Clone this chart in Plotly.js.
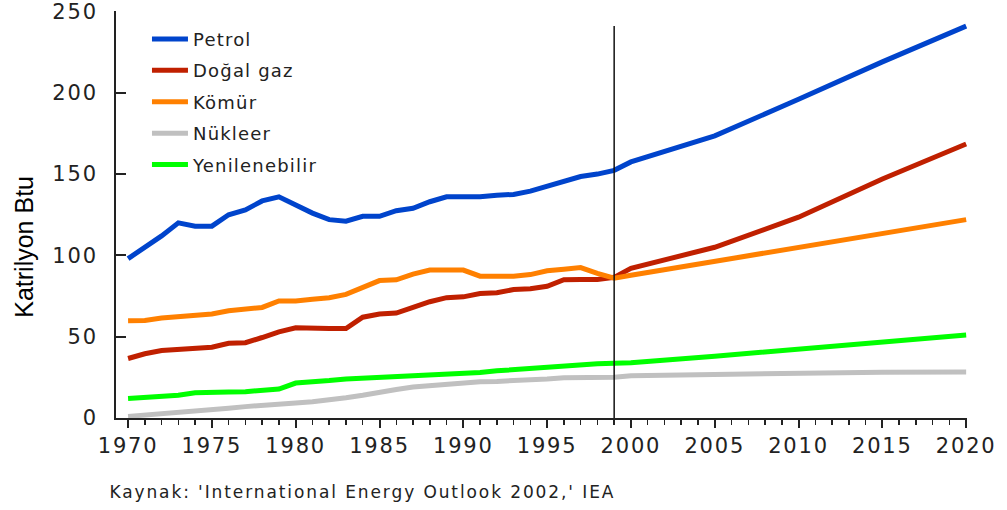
<!DOCTYPE html>
<html>
<head>
<meta charset="utf-8">
<script src="https://cdn.plot.ly/plotly-3.0.1.min.js"></script>
<style>
html, body { margin:0; padding:0; background:#fff; }
#chart { width:1007px; height:510px; }
.xtick text, .ytick text { letter-spacing: 1.8px; }
.legendtext { letter-spacing: 1.2px; }
.annotation-text.source { letter-spacing: 1.9px; }
</style>
</head>
<body>
<div id="chart"></div>
<script>
// Years
const histYears = [1970,1971,1972,1973,1974,1975,1976,1977,1978,1979,
                   1980,1981,1982,1983,1984,1985,1986,1987,1988,1989,
                   1990,1991,1992,1993,1994,1995,1996,1997,1998,1999];
const forecastYears = [2000,2005,2010,2015,2020];

// Series (quadrillion Btu) — historical 1970-1999
const petrolHist = [98,105,112,120,118,118,125,128,133.5,136,
                    131,126,122,121,124,124,127.5,129,133,136,
                    136,136,137,137.5,139.5,142.5,146,148.5,150,152.3];
const gasHist    = [36.6,39.5,41.5,42,43,43.5,46,46.3,49.5,53,
                    55.5,55,55,55,62,64,64.5,68,71.5,74,
                    74.5,76.5,77,79,79.5,81,85,85.2,85.2,86.5];
const coalHist   = [59.8,60,61.5,62.5,62.8,64,66,67,68,72,
                    72,73,74,76,80,84.5,85,88.5,91,91,
                    91,87.2,87,87.2,88.2,90.5,91.5,92.5,89,86];
const nuclearHist= [1,1.8,2.5,3,4,5,6,7,7.5,8,
                    9.2,10,11,12.5,14,16,17.5,19,20,21,
                    21.5,22.3,22.5,22.8,23.3,24,24.8,25,25,25];
const renewHist  = [12,12.5,13.5,14,15.5,16,16,16.2,17,17.8,
                    21.5,22,23,24,24.5,25,25.2,25.5,26,26.5,
                    27.3,28,29,29.8,30.5,31.3,32.2,33,33.3,33.6];

// Forecast 2000-2020
const petrolFc  = [157.5,173.5,196,219,241];
const gasFc     = [92,105,123.5,147,168.5];
const coalFc    = [87.8,96.5,105,113.5,122];
const nuclearFc = [26,26.7,27.8,28.2,28.3];
const renewFc   = [34,38,42.3,46.7,51];

const seriesNames = ['Petrol','Doğal gaz','Kömür','Nükleer','Yenilenebilir'];
const seriesColors = ['#0044cc','#c02000','#ff8000','#c0c0c0','#00ff00'];

const yTickVals = [0,50,100,150,200,250];
const dividerYear = 1999;
const dividerTop = 241;
const sourceText = "Kaynak: 'International Energy Outlook 2002,' IEA";
const yTitle = 'Katrilyon Btu';

const allYears = histYears.concat(forecastYears);
const data = [petrolHist.concat(petrolFc), gasHist.concat(gasFc), coalHist.concat(coalFc),
              nuclearHist.concat(nuclearFc), renewHist.concat(renewFc)];

const traces = data.map((ys, i) => ({
  type: 'scatter', mode: 'lines',
  x: allYears, y: ys,
  name: seriesNames[i],
  legendgroup: 'g' + i,
  line: {color: seriesColors[i], width: 5},
  hoverinfo: 'skip'
}));

const tickFont = {family: 'DejaVu Sans', size: 21, color: '#222'};

const layout = {
  width: 1007, height: 510,
  margin: {l:116, r:40, t:11, b:92, pad:0, autoexpand: false},
  paper_bgcolor: '#fff', plot_bgcolor: '#fff',
  showlegend: true,
  legend: {
    x: 0.0364, y: 0.976, xanchor: 'left', yanchor: 'top',
    bgcolor: 'rgba(0,0,0,0)', borderwidth: 0,
    font: {family: 'DejaVu Sans', size: 18, color: '#222'},
    traceorder: 'grouped', tracegroupgap: 5, itemwidth: 36
  },
  xaxis: {
    range: [1969.28, 2020.05], showgrid: false, zeroline: false,
    showline: true, linecolor: '#222', linewidth: 2, automargin: false,
    ticks: 'outside', tickmode: 'linear', tick0: 1970, dtick: 5,
    ticklen: 8, tickwidth: 2, tickcolor: '#222',
    minor: {ticks: 'outside', dtick: 1, tick0: 1970, ticklen: 5, tickwidth: 1.5, tickcolor: '#222', showgrid: false},
    tickfont: tickFont, ticklabelstandoff: 0, ticklabeloverflow: 'allow'
  },
  yaxis: {
    range: [0, 250.3], showgrid: false, zeroline: false,
    showline: true, linecolor: '#222', linewidth: 2, automargin: false,
    ticks: 'inside', tickmode: 'array', tickvals: yTickVals,
    ticklen: 10, tickwidth: 2, tickcolor: '#222',
    tickfont: tickFont, ticklabelstandoff: 12, ticklabeloverflow: 'allow'
  },
  shapes: [{
    type: 'line', xref: 'x', yref: 'y',
    x0: dividerYear, x1: dividerYear, y0: 0, y1: dividerTop,
    line: {color: '#111', width: 1.5}
  }],
  annotations: [{
    xref: 'paper', yref: 'paper', x: 0.290, y: -0.182,
    xanchor: 'center', yanchor: 'middle', showarrow: false,
    text: sourceText,
    font: {family: 'DejaVu Sans', size: 17, color: '#222'}
  }, {
    xref: 'paper', yref: 'paper', x: -0.108, y: 0.421,
    xanchor: 'center', yanchor: 'middle', showarrow: false, textangle: -90,
    text: yTitle,
    font: {family: 'Liberation Sans', size: 25, color: '#000'}
  }]
};

Plotly.newPlot('chart', traces, layout, {displayModeBar: false, staticPlot: true}).then(() => {
  const anns = document.querySelectorAll('.annotation-text');
  if (anns.length) anns[0].classList.add('source');
});
</script>
</body>
</html>
